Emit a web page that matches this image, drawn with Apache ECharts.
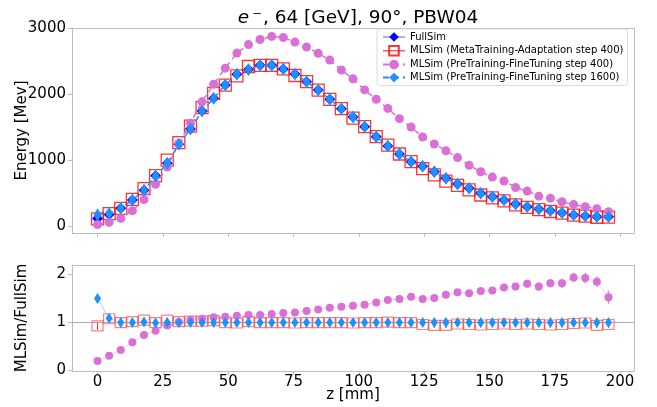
<!DOCTYPE html>
<html>
<head>
<meta charset="utf-8">
<script src="https://cdn.jsdelivr.net/npm/echarts@6/dist/echarts.min.js"></script>
<style>
  html, body { margin: 0; padding: 0; background: #fff; }
  #chart { width: 657px; height: 407px; }
</style>
</head>
<body>
<div id="chart"></div>
<script>
// Longitudinal shower profile: bin centres along z [mm]
const zCenters = [0, 4.44, 8.89, 13.33, 17.78, 22.22, 26.67, 31.11, 35.56, 40,
  44.44, 48.89, 53.33, 57.78, 62.22, 66.67, 71.11, 75.56, 80, 84.44,
  88.89, 93.33, 97.78, 102.22, 106.67, 111.11, 115.56, 120, 124.44, 128.89,
  133.33, 137.78, 142.22, 146.67, 151.11, 155.56, 160, 164.44, 168.89, 173.33,
  177.78, 182.22, 186.67, 191.11, 195.56];

const tickZ = [0, 25, 50, 75, 100, 125, 150, 175, 200];
const tickEnergy = [0, 1000, 2000, 3000];
const tickRatio = [0, 1, 2];

// Deposited energy per bin [MeV]
const fullSim = [115, 175, 268, 394, 540, 762, 950, 1238, 1470, 1742,
  1934, 2136, 2298, 2370, 2435, 2435, 2380, 2303, 2187, 2060,
  1919, 1777, 1652, 1505, 1353, 1212, 1091, 974, 905, 823,
  722, 636, 571, 495, 444, 394, 333, 292, 258, 232,
  202, 167, 152, 141, 141];

const metaAdapt400 = [107, 189, 268, 402, 567, 762, 998, 1263, 1514, 1794,
  2011, 2136, 2275, 2417, 2435, 2435, 2380, 2280, 2187, 2060,
  1919, 1777, 1635, 1505, 1353, 1224, 1091, 974, 869, 774,
  679, 617, 548, 470, 426, 382, 320, 283, 248, 220,
  194, 164, 150, 133, 135];

const preFine400 = [23, 54, 115, 232, 400, 632, 893, 1250, 1558, 1881,
  2147, 2392, 2620, 2749, 2825, 2873, 2856, 2787, 2712, 2616,
  2514, 2363, 2230, 2062, 1921, 1782, 1626, 1500, 1348, 1243,
  1141, 1037, 919, 822, 741, 682, 583, 529, 452, 422,
  368, 324, 293, 261, 216];

const preFine1600 = [172, 191, 268, 394, 545, 754, 950, 1238, 1470, 1742,
  1934, 2136, 2298, 2370, 2435, 2435, 2380, 2303, 2187, 2060,
  1919, 1777, 1652, 1505, 1353, 1212, 1091, 974, 905, 823,
  722, 636, 571, 495, 444, 394, 333, 292, 258, 232,
  202, 167, 152, 141, 141];

// MLSim / FullSim per bin
const ratioMeta400 = [0.93, 1.08, 1.0, 1.02, 1.05, 1.0, 1.05, 1.02, 1.03, 1.03,
  1.04, 1.0, 0.99, 1.02, 1.0, 1.0, 1.0, 0.99, 1.0, 1.0,
  1.0, 1.0, 0.99, 1.0, 1.0, 1.01, 1.0, 1.0, 0.96, 0.94,
  0.94, 0.97, 0.96, 0.95, 0.96, 0.97, 0.96, 0.97, 0.96, 0.95,
  0.96, 0.98, 0.99, 0.94, 0.96];

const ratioPre400 = [0.20, 0.31, 0.43, 0.59, 0.74, 0.83, 0.94, 1.01, 1.06, 1.08,
  1.11, 1.12, 1.14, 1.16, 1.16, 1.18, 1.20, 1.21, 1.24, 1.27,
  1.31, 1.33, 1.35, 1.37, 1.42, 1.47, 1.49, 1.54, 1.49, 1.51,
  1.58, 1.63, 1.61, 1.66, 1.67, 1.73, 1.75, 1.81, 1.75, 1.82,
  1.82, 1.94, 1.93, 1.85, 1.53];

const ratioPre1600 = [1.5, 1.09, 1.0, 1.0, 1.01, 0.99, 1.0, 1.0, 1.0, 1.0,
  1.0, 1.0, 1.0, 1.0, 1.0, 1.0, 1.0, 1.0, 1.0, 1.0,
  1.0, 1.0, 1.0, 1.0, 1.0, 1.0, 1.0, 1.0, 1.0, 1.0,
  1.0, 1.0, 1.0, 1.0, 1.0, 1.0, 1.0, 1.0, 1.0, 1.0,
  1.0, 1.0, 1.0, 1.0, 1.0];

// Ratio uncertainties
const errMeta400 = [0.08, 0.06, 0.05, 0.05, 0.06, 0.05, 0.05, 0.05, 0.04, 0.04,
  0.04, 0.04, 0.04, 0.04, 0.04, 0.04, 0.04, 0.04, 0.04, 0.04,
  0.04, 0.04, 0.04, 0.04, 0.04, 0.04, 0.04, 0.04, 0.05, 0.05,
  0.05, 0.05, 0.05, 0.05, 0.05, 0.05, 0.05, 0.06, 0.06, 0.06,
  0.06, 0.06, 0.06, 0.06, 0.07];

const errPre400 = [0.07, 0.07, 0.06, 0.06, 0.06, 0.05, 0.05, 0.04, 0.04, 0.04,
  0.03, 0.03, 0.03, 0.03, 0.03, 0.03, 0.03, 0.03, 0.03, 0.03,
  0.03, 0.03, 0.04, 0.04, 0.04, 0.04, 0.04, 0.05, 0.05, 0.05,
  0.05, 0.06, 0.06, 0.07, 0.07, 0.07, 0.08, 0.08, 0.09, 0.09,
  0.10, 0.10, 0.11, 0.11, 0.14];

const errPre1600 = [0.06, 0.05, 0.04, 0.04, 0.04, 0.04, 0.04, 0.04, 0.04, 0.04,
  0.04, 0.04, 0.04, 0.04, 0.04, 0.04, 0.04, 0.04, 0.04, 0.04,
  0.04, 0.04, 0.04, 0.04, 0.04, 0.04, 0.04, 0.04, 0.04, 0.04,
  0.04, 0.04, 0.04, 0.04, 0.04, 0.04, 0.04, 0.04, 0.04, 0.04,
  0.05, 0.05, 0.05, 0.05, 0.05];

const nameFull = 'FullSim';
const nameMeta = 'MLSim (MetaTraining-Adaptation step 400)';
const namePre400 = 'MLSim (PreTraining-FineTuning step 400)';
const namePre1600 = 'MLSim (PreTraining-FineTuning step 1600)';

const FONT = 'DejaVu Sans';
const SPINE = '#bdbdbd';

const pts = ys => zCenters.map((z, i) => [z, ys[i]]);
const plain = v => String(v);

// Vertical error bars drawn through the axis scales
function errorBars(name, ys, errs, color, width, axisIdx, z, extra) {
  return Object.assign({
    name: name,
    type: 'custom',
    xAxisIndex: axisIdx,
    yAxisIndex: axisIdx,
    z: z,
    silent: true,
    clip: true,
    data: zCenters.map((x, i) => [x, ys[i] - errs[i], ys[i] + errs[i]]),
    encode: { x: 0, y: [1, 2] },
    renderItem(params, api) {
      const a = api.coord([api.value(0), api.value(1)]);
      const b = api.coord([api.value(0), api.value(2)]);
      return {
        type: 'line',
        shape: { x1: a[0], y1: a[1], x2: b[0], y2: b[1] },
        style: { stroke: color, lineWidth: width }
      };
    }
  }, extra || {});
}

const spineLine = { show: true, onZero: false, lineStyle: { color: SPINE, width: 1 } };
const tickStyle = { length: 4, lineStyle: { color: SPINE } };

function zAxis(gridIndex, withLabels) {
  const ax = {
    gridIndex: gridIndex, type: 'value', min: -9.78, max: 205.33, position: 'bottom',
    axisLine: spineLine, splitLine: { show: false },
    axisTick: Object.assign({ show: true, customValues: tickZ }, tickStyle),
    axisLabel: { show: false }
  };
  if (withLabels) {
    ax.axisLabel = { show: true, customValues: tickZ, formatter: plain, fontSize: 15, color: '#000', fontFamily: FONT, margin: 4 };
    ax.name = 'z [mm]';
    ax.nameLocation = 'middle';
    ax.nameGap = 17;
    ax.nameMoveOverlap = false;
    ax.nameTextStyle = { fontSize: 15, color: '#000', fontFamily: FONT };
  }
  return ax;
}

function valueAxis(gridIndex, min, max, ticks, title) {
  return {
    gridIndex: gridIndex, type: 'value', min: min, max: max, position: 'left',
    axisLine: spineLine, splitLine: { show: false },
    axisTick: Object.assign({ show: true, customValues: ticks }, tickStyle),
    axisLabel: { customValues: ticks, formatter: plain, fontSize: 15, color: '#000', fontFamily: FONT, margin: 6 },
    name: title, nameLocation: 'middle', nameRotate: 90, nameGap: 42, nameMoveOverlap: false,
    nameTextStyle: { fontSize: 15, color: '#000', fontFamily: FONT }
  };
}

// Plain top / right spines that close each panel's frame
function frameX(gridIndex) {
  return { gridIndex: gridIndex, type: 'value', min: 0, max: 1, position: 'top',
    axisLine: spineLine, axisTick: { show: false }, axisLabel: { show: false }, splitLine: { show: false } };
}
function frameY(gridIndex) {
  return { gridIndex: gridIndex, type: 'value', min: 0, max: 1, position: 'right',
    axisLine: spineLine, axisTick: { show: false }, axisLabel: { show: false }, splitLine: { show: false } };
}

const chart = echarts.init(document.getElementById('chart'), null, { renderer: 'canvas' });

chart.setOption({
  animation: false,
  backgroundColor: '#fff',
  textStyle: { fontFamily: FONT, color: '#000' },
  title: {
    text: '{it|e}{sup|⁻}, 64 [GeV], 90°, PBW04',
    left: 353, top: 4, textAlign: 'center',
    textStyle: {
      fontFamily: FONT, fontSize: 18.5, fontWeight: 'normal', color: '#000',
      rich: {
        it: { fontFamily: FONT, fontSize: 18.5, fontStyle: 'italic', color: '#000' },
        sup: { fontFamily: FONT, fontSize: 18.5, color: '#000', padding: [0, 1, 0, 3] }
      }
    }
  },
  legend: {
    orient: 'vertical', left: 377, top: 29,
    padding: [3, 4, 3, 5], itemGap: 3, itemWidth: 22, itemHeight: 12,
    backgroundColor: '#fff', borderColor: '#dadada', borderWidth: 1, borderRadius: 3,
    selectedMode: false,
    textStyle: { fontFamily: FONT, fontSize: 10, color: '#000' },
    data: [
      { name: nameFull, lineStyle: { color: '#a9b2ff', width: 2, opacity: 1 } },
      { name: nameMeta, lineStyle: { color: '#ff3030', width: 1.2, opacity: 1 } },
      namePre400,
      namePre1600
    ]
  },
  grid: [
    { left: 72, top: 28, width: 562, height: 205, outerBoundsMode: 'none' },
    { left: 72, top: 265, width: 562, height: 106, outerBoundsMode: 'none' }
  ],
  xAxis: [zAxis(0, false), zAxis(1, true), frameX(0), frameX(1)],
  yAxis: [
    valueAxis(0, -106, 3000, tickEnergy, 'Energy [Mev]'),
    valueAxis(1, -0.01, 2.2, tickRatio, 'MLSim/FullSim'),
    frameY(0), frameY(1)
  ],
  series: [
    // ---- energy profile ----
    {
      name: nameFull, type: 'line', xAxisIndex: 0, yAxisIndex: 0, z: 2,
      data: pts(fullSim),
      symbol: 'diamond', symbolSize: [11, 11],
      itemStyle: { color: '#0000ff' },
      lineStyle: { color: 'rgba(0,0,0,0)' }
    },
    {
      name: nameMeta, type: 'line', xAxisIndex: 0, yAxisIndex: 0, z: 3,
      data: pts(metaAdapt400),
      symbol: 'rect', symbolSize: [12, 12],
      itemStyle: { color: 'rgba(255,255,255,0)', borderColor: 'rgba(255,0,0,0.8)', borderWidth: 1.3 },
      lineStyle: { color: 'rgba(0,0,0,0)' }
    },
    {
      name: namePre400, type: 'line', xAxisIndex: 0, yAxisIndex: 0, z: 4,
      data: pts(preFine400),
      symbol: 'circle', symbolSize: 9,
      itemStyle: { color: '#da70d6' },
      lineStyle: { color: '#da70d6', width: 1.5, type: [6, 4] }
    },
    {
      name: namePre1600, type: 'line', xAxisIndex: 0, yAxisIndex: 0, z: 5,
      data: pts(preFine1600),
      symbol: 'diamond', symbolSize: [8, 13],
      itemStyle: { color: '#1e90ff' },
      lineStyle: { color: '#1e90ff', width: 1.5, type: [6, 4] }
    },
    // ---- ratio panel ----
    errorBars('errMeta', ratioMeta400, errMeta400, 'rgba(255,0,0,0.9)', 1, 1, 2, {
      markLine: {
        silent: true, symbol: 'none', label: { show: false },
        lineStyle: { color: '#aaaaaa', width: 1, type: 'solid' },
        data: [{ yAxis: 1 }]
      }
    }),
    {
      name: 'ratioMeta', type: 'line', xAxisIndex: 1, yAxisIndex: 1, z: 3,
      data: pts(ratioMeta400),
      symbol: 'rect', symbolSize: [11, 10],
      itemStyle: { color: 'rgba(255,255,255,0)', borderColor: 'rgba(255,0,0,0.5)', borderWidth: 1.2 },
      lineStyle: { color: 'rgba(0,0,0,0)' }
    },
    errorBars('errPre400', ratioPre400, errPre400, 'rgba(218,112,214,0.8)', 1.5, 1, 4),
    {
      name: 'ratioPre400', type: 'line', xAxisIndex: 1, yAxisIndex: 1, z: 4,
      data: pts(ratioPre400),
      symbol: 'circle', symbolSize: 8,
      itemStyle: { color: '#da70d6' },
      lineStyle: { color: 'rgba(218,112,214,0.35)', width: 1 }
    },
    errorBars('errPre1600', ratioPre1600, errPre1600, '#1e90ff', 1.5, 1, 5),
    {
      name: 'ratioPre1600', type: 'line', xAxisIndex: 1, yAxisIndex: 1, z: 5,
      data: pts(ratioPre1600),
      symbol: 'diamond', symbolSize: [7, 11],
      itemStyle: { color: '#1e90ff' },
      lineStyle: { color: 'rgba(30,144,255,0.4)', width: 1 }
    }
  ]
});
</script>
</body>
</html>
